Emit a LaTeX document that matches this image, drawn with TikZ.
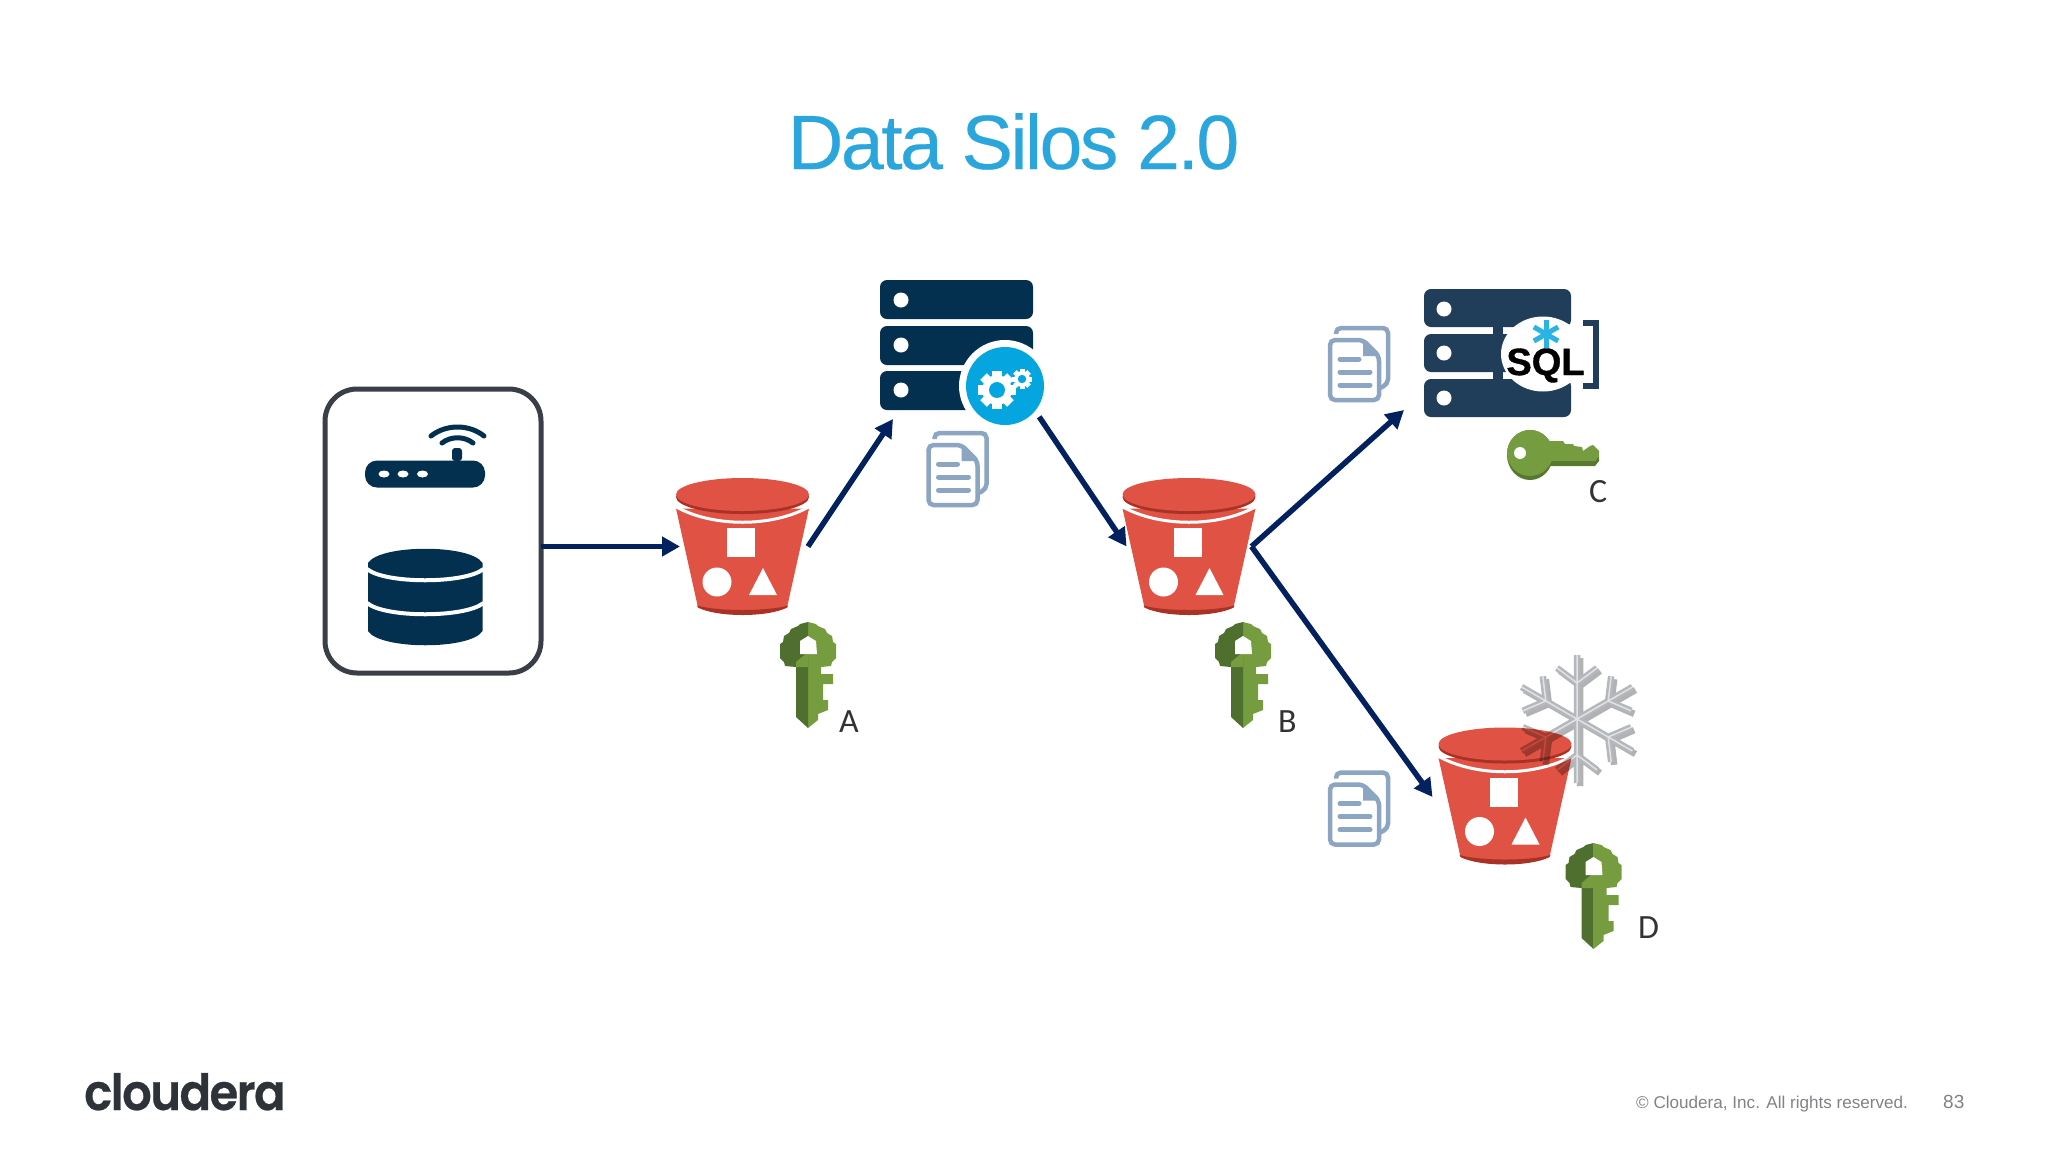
\documentclass[tikz,border=0pt]{standalone}
\usepackage{fontspec}
\usepackage{tikz}
\usetikzlibrary{arrows.meta,positioning,calc}
\setmainfont{Liberation Sans}
\newfontfamily\titlefont[LetterSpace=-3.3,FakeBold=0.3]{Liberation Sans}
\newfontfamily\labelfont{Carlito}
\newfontfamily\logofont[FakeStretch=0.93,LetterSpace=-3,FakeBold=0.5]{Poppins SemiBold}
\newfontfamily\sqlfont[FakeBold=1]{Liberation Sans Bold}
\definecolor{navy}{HTML}{03304F}
\definecolor{slate}{HTML}{203E5A}
\definecolor{flowblue}{HTML}{03215F}
\definecolor{boxgrey}{HTML}{3A3F47}
\definecolor{bucketred}{HTML}{E05243}
\definecolor{bucketdark}{HTML}{A83226}
\definecolor{skyblue}{HTML}{05A6E0}
\definecolor{titleblue}{HTML}{2BA6DC}
\definecolor{docblue}{HTML}{8CA5C2}
\definecolor{keylight}{HTML}{759C3E}
\definecolor{keydark}{HTML}{4F6F2E}
\definecolor{flakegrey}{HTML}{B4B7BB}
\definecolor{footgrey}{HTML}{808285}
\definecolor{logogrey}{HTML}{2D3339}
\begin{document}
\begin{tikzpicture}[x=1pt,y=-1pt,
% Icons only hold the place, the pics draw them
holder/.style={
rectangle,inner sep=0pt,outer sep=0pt},
box/.style={
rectangle,rounded corners=32pt,inner sep=0pt,outer sep=0pt,
minimum width=216pt,minimum height=284pt,
line width=5pt,draw=boxgrey},
bucketicon/.style={holder,minimum width=125pt,minimum height=138pt},
flow/.style={
line width=5.5pt,draw=flowblue,
-{Triangle[length=18pt,width=19pt]}},
letter/.style={
font=\labelfont\fontsize{34}{34}\selectfont,text=black!80,
inner sep=0pt},
pics/bucket/.style={code={
\fill[bucketred] (-66.5,-38) -- (-44.5,61) .. controls (-25,70) and (25,70) .. (44.5,61) -- (66.5,-38) -- cycle;
\fill[bucketdark] (-45.5,59) .. controls (-25,65) and (25,65) .. (45.5,59) -- (44.5,61) .. controls (25,71) and (-25,71) .. (-44.5,61) -- cycle;
\draw[white,line width=3pt] (-67,-40) .. controls (-30,-19) and (30,-19) .. (67,-40);
\fill[bucketdark] (0,-49.5) ellipse (66.5 and 17);
\fill[bucketred] (0,-52) ellipse (66.5 and 16.5);
\fill[white] (-15.5,-18.5) rectangle (12.5,10.5);
\fill[white] (-25.5,35.5) circle (14.5);
\fill[white] (20.5,21.5) -- (6.5,48.5) -- (34.5,48.5) -- cycle;
}},
pics/vkey/.style={code={
\fill[keylight] (0,0) -- (8,2) -- (10,4) -- (17,7) -- (19,11) -- (24,14) -- (25,20) -- (28,22) -- (28,36) -- (24,40) -- (23,44) -- (13,45) -- (13,52) -- (25,52) -- (25,62) -- (15,62) -- (15,78) -- (20,78) -- (20,88) -- (10,92) -- (10,98) -- (0,106) -- cycle;
\fill[keydark] (0,0) -- (-8,2) -- (-10,4) -- (-17,7) -- (-19,11) -- (-24,14) -- (-25,20) -- (-28,22) -- (-28,36) -- (-24,40) -- (-23,44) -- (-12,45) -- (-12,95) -- (0,106) -- cycle;
\fill[keylight] (-12,40) -- (0,30) -- (0,45) -- (-12,45) -- cycle;
\fill[white] (0,14) -- (8,19) -- (9,32) -- (0,32) -- (-8,32) -- (-8,19) -- cycle;
}},
pics/hkey/.style={code={
\fill[keydark!80!keylight] (17,7) -- (65,7) -- (69,2) -- (69,7) -- (65,12) -- (17,12) -- cycle;
\fill[keydark!80!keylight] (0,1) ellipse (23 and 25);
\fill[keylight] (0,-1) ellipse (23 and 23);
\fill[keylight] (14,-13) -- (33,-13) -- (35,-10) -- (43,-10) -- (44,-8) -- (52,-7) -- (53,-3) -- (60,-8) -- (63,-9) -- (69,-3) -- (69,2) -- (65,7) -- (14,7) -- cycle;
\fill[white] (-10,-1) circle (6);
}},
pics/doc/.style={code={
\draw[docblue,line width=4.5pt,rounded corners=5pt] (-23,-30) -- (-23,-36) -- (29,-36) -- (29,20) -- (21,24);
\draw[docblue,line width=4.5pt,fill=white,rounded corners=5pt] (-29,-24) -- (4,-24) -- (20,-8) -- (20,36) -- (-29,36) -- cycle;
\fill[docblue] (4,-24) -- (20,-8) -- (4,-8) -- cycle;
\draw[docblue,line width=5pt,line cap=round] (-19,-5) -- (0,-5) (-19,8) -- (11,8) (-19,21) -- (11,21);
}},
pics/gearwheel/.style={code={
\foreach \a in {0,45,...,315}
\fill[white,rotate=\a] (-.25,-1) rectangle (.25,-.72);
\fill[white] (0,0) circle (.78);
\fill[skyblue] (0,0) circle (.42);
}},
pics/flake/.style={code={
\foreach \a in {0,60,...,300} {
\draw[#1,rotate=\a] (0,0) -- (0,-64) (0,-36) -- (-20,-51) (0,-36) -- (20,-51);
}
}}
]
\useasboundingbox (0,0) rectangle (2048,1152);

\node (title) [font=\titlefont\fontsize{77}{77}\selectfont,text=titleblue,anchor=base,inner sep=0pt] at (1013.5,169) {Data Silos 2.0};

% source box
\node (source) [box,fill=white] at (433,531) {};
\node (router) [holder,fill=navy,rounded corners=12pt,minimum width=120pt,minimum height=27pt] at (425,474) {};
\foreach \x in {-41,-22,-2.5}
\fill[white] ($(router)+(\x,0)$) ellipse (5.5 and 3.5);
\fill[navy,rounded corners=3pt] (452,461) -- (452,448) -- (462,448) -- (462,461) -- cycle;
\draw[navy,line width=5pt,line cap=round] (431,436) .. controls (446,424) and (469,424) .. (484,436);
\draw[navy,line width=5pt,line cap=round] (442,443) .. controls (451,436) and (464,436) .. (473,443);
\node (database) [holder,minimum width=114.5pt,minimum height=96pt] at (425.5,597) {};
\fill[navy] (368,563) -- (368,631) .. controls (380,650) and (471,650) .. (482.5,631) -- (482.5,563) .. controls (471,544) and (380,544) .. (368,563) -- cycle;
\draw[white,line width=4pt] (367,569) .. controls (385,584) and (465,584) .. (483.5,569);
\draw[white,line width=4pt] (367,603) .. controls (385,618) and (465,618) .. (483.5,603);

% buckets
\node (bucketa) [bucketicon] at (742.5,546.5) {};
\pic at (bucketa) {bucket};
\node (bucketb) [bucketicon] at (1189,546.5) {};
\pic at (bucketb) {bucket};
\node (bucketd) [bucketicon] at (1505,796) {};
\pic at (bucketd) {bucket};

% keys
\node (keya) [holder,minimum width=56pt,minimum height=106pt] at (808,675) {};
\pic at (keya.north) {vkey};
\node (keyb) [holder,minimum width=56pt,minimum height=106pt] at (1243,675) {};
\pic at (keyb.north) {vkey};
\node (keyd) [holder,minimum width=56pt,minimum height=106pt] at (1593.5,896) {};
\pic at (keyd.north) {vkey};
\node (keyc) [holder,minimum width=92pt,minimum height=50pt] at (1553,454) {};
\pic at (1530,454) {hkey};
\node (la) [letter,anchor=base west] at (839,732) {A};
\node (lb) [letter,anchor=base west] at (1278,732) {B};
\node (lc) [letter,anchor=base west] at (1589,502) {C};
\node (ld) [letter,anchor=base west] at (1638,938) {D};

% compute server
\node (server) [holder,minimum width=153pt,minimum height=130pt] at (956.5,345) {};
\foreach \y/\d in {-65/-45,-19/0,26/45} {
\fill[navy,rounded corners=7pt] ($(server.center)+(-76.5,\y)$) rectangle ++(153,39);
\fill[white] ($(server.center)+(-55.5,\d)$) circle (7.5);
}
\node (gear) [circle,fill=white,inner sep=0pt,outer sep=0pt,minimum size=92pt] at (1005,386) {};
\fill[skyblue] (gear) circle (39);
\pic[scale=19] at (997,390) {gearwheel};
\pic[scale=10] at (1022,379) {gearwheel};

% sql server
\node (sqlserver) [holder,minimum width=147pt,minimum height=128pt] at (1497.5,353) {};
\foreach \y/\d in {-64/-44,-19/0,26/45} {
\fill[slate,rounded corners=7pt] ($(sqlserver.center)+(-73.5,\y)$) rectangle ++(147,38);
\fill[white] ($(sqlserver.center)+(-53.5,\d)$) circle (7.5);
}
\fill[slate] (1493,326) rectangle (1503,380);
\fill[white] (1543,354) ellipse (42 and 37.5);
\draw[slate,line width=6pt] (1583,323) -- (1596,323) -- (1596,386) -- (1583,386);
\foreach \a in {90,30,-30}
\draw[skyblue!85!white,line width=5pt] (1546,334) ++(\a:14) -- ++(\a:-28);
\node (sql) [font=\sqlfont\fontsize{38}{38}\selectfont,text=black,anchor=base,inner sep=0pt] at (1545.5,375) {SQL};

% snow flake
\begin{scope}[transparency group,blend mode=multiply]
\pic at (1580,722) {flake={black!30,line width=6.5pt}};
\pic at (1577,719) {flake={flakegrey,line width=6.5pt}};
\pic at (1577,719) {flake={flakegrey!40,line width=1.5pt}};
\end{scope}

% documents
\node (docx) [holder,minimum width=61pt,minimum height=76pt] at (957.5,469) {};
\pic at (docx) {doc};
\node (docy) [holder,minimum width=61pt,minimum height=76pt] at (1359,364) {};
\pic at (docy) {doc};
\node (docz) [holder,minimum width=61pt,minimum height=76pt] at (1359,808.5) {};
\pic at (docz) {doc};

% footer
\node (logo) [font=\logofont\fontsize{50}{50}\selectfont,text=logogrey,anchor=base west,inner sep=0pt] at (84,1110) {cloudera};
\node (rights) [font=\fontsize{17.1}{18}\selectfont,text=footgrey,anchor=base west,inner sep=0pt] at (1636,1108) {\textcopyright{} Cloudera, Inc. All rights reserved.};
\node (page) [font=\fontsize{19}{19}\selectfont,text=footgrey,anchor=base west,inner sep=0pt] at (1943,1108) {83};

% flows
\draw[flow] (source.east |- bucketa.west) -- (bucketa.west);
\draw[flow] ($(bucketa.east)+(3,0)$) -- ($(server.south west)+(13,9)$);
\draw[flow] (gear.-42) -- (bucketb.west);
\draw[flow] (bucketb.east) -- ($(sqlserver.south west)+(-20,-7)$);
\draw[flow] (bucketb.east) -- ($(bucketd.west)+(-10,1)$);
\end{tikzpicture}
\end{document}
